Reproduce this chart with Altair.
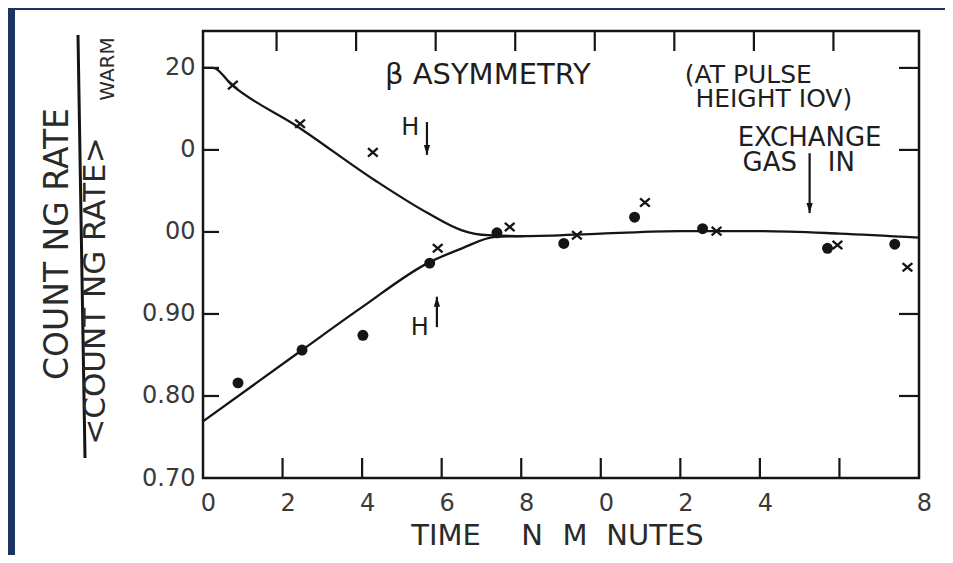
import altair as alt
import pandas as pd

# ---------------- data ----------------
X_TICKS = [0, 2, 4, 6, 8, 10, 12, 14, 16, 18]
X_TICK_LABELS = ["0", "2", "4", "6", "8", "0", "2", "4", "", "8"]
Y_TICKS = [0.70, 0.80, 0.90, 1.00, 1.10, 1.20]
Y_TICK_LABELS = ["0.70", "0.80", "0.90", "00", "0", "20"]
INNER_X_TICKS = [2, 4, 6, 8, 10, 12, 14, 16]
LEFT_Y_TICKS = [0.80, 0.90, 1.00, 1.10, 1.20]
RIGHT_Y_TICKS = [0.80, 0.90, 1.10, 1.20]

# crosses (x markers)
CROSS_T = [0.75, 2.44, 4.27, 5.90, 7.71, 9.40, 11.11, 12.91, 15.95, 17.71]
CROSS_V = [1.179, 1.132, 1.097, 0.980, 1.006, 0.996, 1.036, 1.001, 0.984, 0.957]
# filled dots
DOT_T = [0.88, 2.49, 4.02, 5.70, 7.39, 9.07, 10.85, 12.56, 15.70, 17.39]
DOT_V = [0.816, 0.856, 0.874, 0.962, 0.999, 0.986, 1.018, 1.004, 0.980, 0.985]
# drawn curves
UPPER_T = [0, 0.25, 0.73, 2.39, 4.32, 5.65, 6.51, 7.16, 8.09, 10.0, 12.0, 14.0, 16.0, 18.0]
UPPER_V = [1.200, 1.200, 1.179, 1.128, 1.063, 1.023, 1.002, 0.996, 0.995, 0.998, 1.001, 1.001, 0.998, 0.993]
LOWER_T = [0, 2.49, 3.99, 5.65, 6.51, 7.34, 8.09]
LOWER_V = [0.769, 0.856, 0.908, 0.962, 0.980, 0.994, 0.995]

# annotations (in data units)
ANN_TEXT = ["β ASYMMETRY", "(AT PULSE", "HEIGHT IOV)", "EXCHANGE", "GAS", "IN", "H", "H"]
ANN_T = [7.16, 13.71, 14.35, 15.25, 14.25, 16.05, 5.21, 5.45]
ANN_V = [1.191, 1.191, 1.162, 1.115, 1.084, 1.084, 1.127, 0.883]
ANN_FS = [29, 25, 25, 26, 26, 26, 24, 24]

ARROW_T = [5.63, 5.88, 15.25]
ARROW_FROM = [1.134, 0.884, 1.096]
ARROW_TO = [1.094, 0.921, 1.023]
ARROW_DIR = ["down", "up", "down"]

# ---------------- layout ----------------
W, H = 716, 447
FONT = "DejaVu Sans"
INK = "#151515"
NAVY = "#1b3461"


def label_expr(values, labels):
    parts = [f"abs(datum.value - {v}) < 0.001 ? '{l}'" for v, l in zip(values, labels)]
    return " : ".join(parts) + " : ''"


xscale = alt.Scale(domain=[0, 18], nice=False, zero=False)
yscale = alt.Scale(domain=[0.70, 1.245], nice=False, zero=False)
xaxis = alt.Axis(values=X_TICKS, labelExpr=label_expr(X_TICKS, X_TICK_LABELS), domain=False,
                 ticks=False, grid=False, labelFontSize=24, labelPadding=13, labelOffset=5,
                 labelFont=FONT, labelColor="#3a3a3a", title=None, labelFlush=False, zindex=1)
yaxis = alt.Axis(values=Y_TICKS, labelExpr=label_expr(Y_TICKS, Y_TICK_LABELS), domain=False,
                 ticks=False, grid=False, labelFontSize=24, labelPadding=8,
                 labelFont=FONT, labelColor="#3a3a3a", title=None, labelFlush=False, zindex=1)
X = alt.X("t:Q", scale=xscale, axis=xaxis)
Y = alt.Y("v:Q", scale=yscale, axis=yaxis)

dummy = alt.Data(values=[{}])

# navy slide edges (left and top strips)
edge_left = alt.Chart(dummy).mark_rect(color=NAVY).encode(
    x=alt.value(-200), x2=alt.value(-188), y=alt.value(-30), y2=alt.value(530))
edge_top = alt.Chart(dummy).mark_rect(color=NAVY).encode(
    x=alt.value(-200), x2=alt.value(760), y=alt.value(-30), y2=alt.value(-21))

# curves
curves_df = pd.DataFrame({
    "t": UPPER_T + LOWER_T,
    "v": UPPER_V + LOWER_V,
    "series": ["upper"] * len(UPPER_T) + ["lower"] * len(LOWER_T),
})
curves = alt.Chart(curves_df).mark_line(interpolate="monotone", color=INK, strokeWidth=2.3).encode(
    x=X, y=Y, detail="series:N")

cross_df = pd.DataFrame({"t": CROSS_T, "v": CROSS_V})
crosses = alt.Chart(cross_df).mark_point(
    shape="M-1,-0.85L1,0.85M1,-0.85L-1,0.85", filled=False, stroke=INK, strokeWidth=2.3,
    size=95, opacity=1).encode(x=X, y=Y)

dot_df = pd.DataFrame({"t": DOT_T, "v": DOT_V})
dots = alt.Chart(dot_df).mark_circle(color=INK, size=120, opacity=1).encode(x=X, y=Y)

# inward ticks
ix_df = pd.DataFrame({"t": INNER_X_TICKS})
bottom_ticks = alt.Chart(ix_df).mark_rule(color=INK, strokeWidth=2.2).encode(
    x=X, y=alt.value(H), y2=alt.value(H - 20))
top_ticks = alt.Chart(ix_df).mark_rule(color=INK, strokeWidth=2.2, xOffset=-6).encode(
    x=X, y=alt.value(0), y2=alt.value(20))
left_ticks = alt.Chart(pd.DataFrame({"v": LEFT_Y_TICKS})).mark_rule(color=INK, strokeWidth=2.2).encode(
    y=Y, x=alt.value(0), x2=alt.value(16))
right_ticks = alt.Chart(pd.DataFrame({"v": RIGHT_Y_TICKS})).mark_rule(color=INK, strokeWidth=2.2).encode(
    y=Y, x=alt.value(W), x2=alt.value(W - 20))

# annotations
ann_df = pd.DataFrame({"t": ANN_T, "v": ANN_V, "label": ANN_TEXT, "fs": ANN_FS})
ann = alt.Chart(ann_df).mark_text(font=FONT, color="#1e1e1e", align="center", baseline="middle").encode(
    x=X, y=Y, text="label:N", size=alt.Size("fs:Q", scale=None, legend=None))

arrow_df = pd.DataFrame({"t": ARROW_T, "v": ARROW_FROM, "v2": ARROW_TO, "dir": ARROW_DIR})
shafts = alt.Chart(arrow_df).mark_rule(color=INK, strokeWidth=2.2).encode(
    x=X, y=Y, y2="v2:Q")
heads_down = alt.Chart(arrow_df[arrow_df["dir"] == "down"]).mark_point(
    shape="M0,0L-0.6,-1.9L0.6,-1.9Z", filled=True, color=INK, size=110, opacity=1).encode(
    x=X, y=alt.Y("v2:Q", scale=yscale, axis=yaxis))
heads_up = alt.Chart(arrow_df[arrow_df["dir"] == "up"]).mark_point(
    shape="M0,0L-0.6,1.9L0.6,1.9Z", filled=True, color=INK, size=110, opacity=1).encode(
    x=X, y=alt.Y("v2:Q", scale=yscale, axis=yaxis))

# axis titles as hand lettering
def ptext(txt, x, y, fs, angle=0, color="#2a2a2a"):
    return alt.Chart(dummy).mark_text(text=txt, font=FONT, fontSize=fs, angle=angle, color=color,
                                      align="center", baseline="middle").encode(
        x=alt.value(x), y=alt.value(y))

titles = [
    ptext("COUNT NG RATE", -145, 213, 33, 270),
    ptext("<COUNT NG RATE>", -107, 260, 31, 270),
    ptext("WARM", -95, 38, 20, 270),
    ptext("TIME", 243, 505, 29),
    ptext("N", 329, 505, 29),
    ptext("M", 372, 505, 29),
    ptext("NUTES", 452, 505, 29),
]
bar = alt.Chart(dummy).mark_rule(color=INK, strokeWidth=3).encode(
    x=alt.value(-125), x2=alt.value(-118), y=alt.value(4), y2=alt.value(427))

chart = alt.layer(
    edge_left, edge_top, curves, bottom_ticks, top_ticks, left_ticks, right_ticks,
    crosses, dots, ann, shafts, heads_down, heads_up, bar, *titles
).properties(
    width=W, height=H,
    autosize=alt.AutoSizeParams(type="none"),
    padding={"left": 195, "top": 23, "right": 26, "bottom": 77},
    background="white",
).configure_view(
    stroke=INK, strokeWidth=2.5
)

chart.save("out.html", embed_options={"renderer": "svg", "actions": False})
